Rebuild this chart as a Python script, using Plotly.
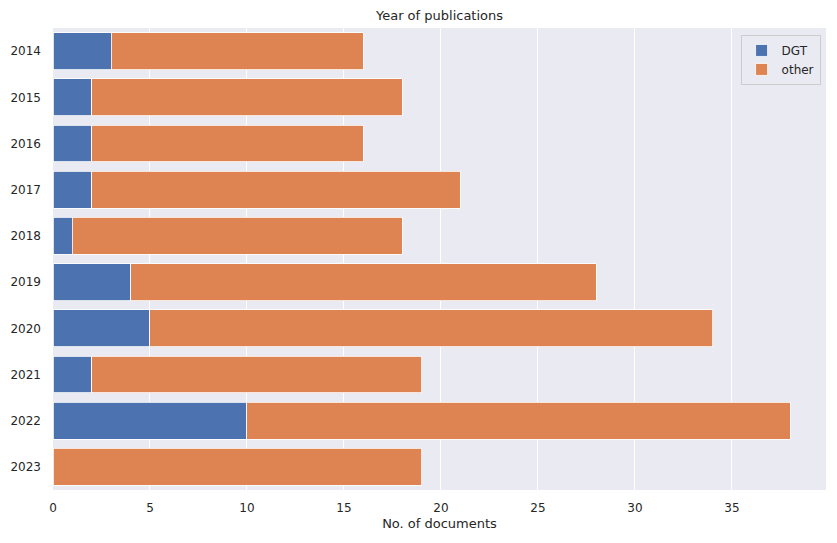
import plotly.graph_objects as go

years = ["2014", "2015", "2016", "2017", "2018", "2019", "2020", "2021", "2022", "2023"]
dgt = [3, 2, 2, 2, 1, 4, 5, 2, 10, 0]
total = [16, 18, 16, 21, 18, 28, 34, 19, 38, 19]
other = [t - d for t, d in zip(total, dgt)]

fig = go.Figure()
fig.add_trace(go.Bar(y=years, x=dgt, name="DGT", orientation="h",
                     marker=dict(color="#4C72B0", line=dict(color="white", width=0.8)),
                     width=0.8))
fig.add_trace(go.Bar(y=years, x=other, name="other", orientation="h",
                     marker=dict(color="#DD8452", line=dict(color="white", width=0.8)),
                     width=0.8))

fig.update_layout(
    barmode="stack",
    width=837, height=543,
    margin=dict(l=53, r=11, t=28, b=53, autoexpand=False),
    paper_bgcolor="white",
    plot_bgcolor="#EAEAF2",
    font=dict(family="DejaVu Sans", size=12, color="#262626"),
    title=dict(text="Year of publications", x=0.5, xanchor="center", y=0.971, yanchor="middle",
               xref="paper", font=dict(size=13, color="#262626")),
    legend=dict(x=0.993, y=0.985, xanchor="right", yanchor="top",
                bgcolor="rgba(234,234,242,0.8)", bordercolor="#CCCCCC", borderwidth=1,
                font=dict(size=12), traceorder="normal", itemwidth=30, tracegroupgap=2),
    bargap=0.2,
)
fig.update_xaxes(range=[0, 39.85], dtick=5, showgrid=True, gridcolor="white", gridwidth=1,
                 zeroline=False, ticks="", automargin=False, ticklabelstandoff=9,
                 title=dict(text="No. of documents", font=dict(size=13), standoff=4),
                 showline=False)
fig.update_yaxes(showgrid=False, zeroline=False, ticks="", automargin=False, ticklabelstandoff=11,
                 showline=False, categoryorder="array", categoryarray=years,
                 range=[9.5, -0.5], autorange=False)

fig.write_html("out.html", config={"displayModeBar": False},
               post_script="document.body.style.margin='0';document.body.style.overflow='hidden';")
